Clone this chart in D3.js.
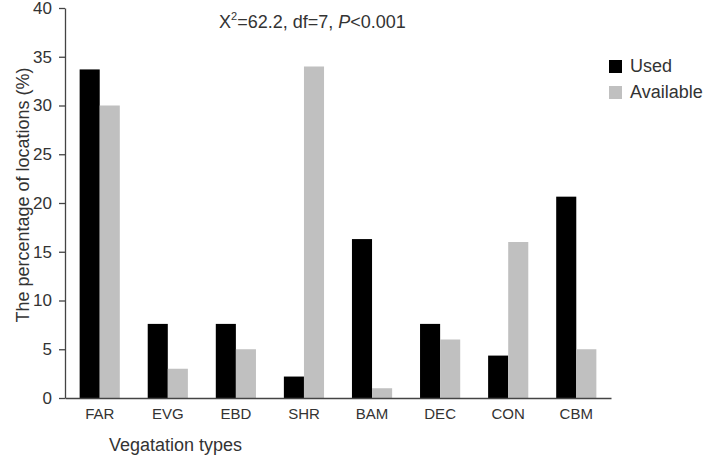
<!DOCTYPE html>
<html>
<head>
<meta charset="utf-8">
<script src="https://cdn.jsdelivr.net/npm/d3@7"></script>
<style>
  body { margin: 0; background: #fff; }
  svg text { font-family: "Liberation Sans", Arial, sans-serif; fill: #333; }
</style>
</head>
<body>
<svg width="706" height="461"></svg>
<script>
const categories = ['FAR', 'EVG', 'EBD', 'SHR', 'BAM', 'DEC', 'CON', 'CBM'];
const used = [33.7, 7.6, 7.6, 2.2, 16.3, 7.6, 4.35, 20.65];
const available = [30, 3, 5, 34, 1, 6, 16, 5];
const yTicks = [0, 5, 10, 15, 20, 25, 30, 35, 40];
const seriesNames = ['Used', 'Available'];
const seriesColors = ['#000000', '#c0c0c0'];

const svg = d3.select('svg');
const margin = { left: 65, right: 95, top: 8, bottom: 63 };
const width = 706, height = 461;

const x = d3.scaleBand()
    .domain(categories)
    .range([margin.left, width - margin.right])
    .paddingInner(0.41)
    .paddingOuter(0.215);

const xSub = d3.scaleBand()
    .domain(seriesNames)
    .range([0, x.bandwidth()]);

const y = d3.scaleLinear()
    .domain([0, 40])
    .range([height - margin.bottom, margin.top]);

const rows = categories.map((c, i) => ({ cat: c, values: [used[i], available[i]] }));

const groups = svg.append('g').selectAll('g')
    .data(rows)
    .enter().append('g')
    .attr('transform', d => `translate(${x(d.cat)},0)`);

groups.selectAll('rect')
    .data(d => d.values.map((v, j) => ({ name: seriesNames[j], v, j })))
    .enter().append('rect')
    .attr('x', d => xSub(d.name))
    .attr('width', xSub.bandwidth())
    .attr('y', d => y(d.v))
    .attr('height', d => y(0) - y(d.v))
    .attr('fill', d => seriesColors[d.j]);

// y axis
const yAxis = svg.append('g')
    .attr('transform', `translate(${margin.left},0)`)
    .call(d3.axisLeft(y).tickValues(yTicks).tickSize(6).tickSizeOuter(0));
yAxis.select('.domain').attr('stroke', '#444').attr('stroke-width', 1.3);
yAxis.selectAll('.tick line').attr('stroke', '#444').attr('stroke-width', 1.3);
yAxis.selectAll('.tick text')
    .attr('x', -13)
    .style('font-size', '17px');

// x axis
const xAxis = svg.append('g')
    .attr('transform', `translate(0,${y(0)})`)
    .call(d3.axisBottom(x).tickSize(0).tickSizeOuter(0));
xAxis.select('.domain').attr('stroke', '#444').attr('stroke-width', 1.3);
xAxis.selectAll('.tick text')
    .attr('y', 0)
    .attr('dy', 21)
    .style('font-size', '15px');

// axis titles
svg.append('text')
    .attr('x', 109).attr('y', 451)
    .style('font-size', '18px')
    .text('Vegatation types');

svg.append('text')
    .attr('transform', 'translate(29,195) rotate(-90)')
    .attr('text-anchor', 'middle')
    .style('font-size', '18px')
    .text('The percentage of locations (%)');

// statistics annotation
const stat = svg.append('text')
    .attr('x', 219).attr('y', 28)
    .style('font-size', '18px');
stat.append('tspan').text('X');
stat.append('tspan').attr('dy', -8).style('font-size', '11px').text('2');
stat.append('tspan').attr('dy', 8).text('=62.2, df=7, ');
stat.append('tspan').style('font-style', 'italic').text('P');
stat.append('tspan').text('<0.001');

// legend
const legend = svg.append('g')
    .attr('transform', 'translate(609,60)')
    .selectAll('g')
    .data(seriesNames)
    .enter().append('g')
    .attr('transform', (d, i) => `translate(0,${i * 26})`);
legend.append('rect')
    .attr('width', 13).attr('height', 13)
    .attr('fill', (d, i) => seriesColors[i]);
legend.append('text')
    .attr('x', 21).attr('y', 12)
    .style('font-size', '18px')
    .text(d => d);
</script>
</body>
</html>
